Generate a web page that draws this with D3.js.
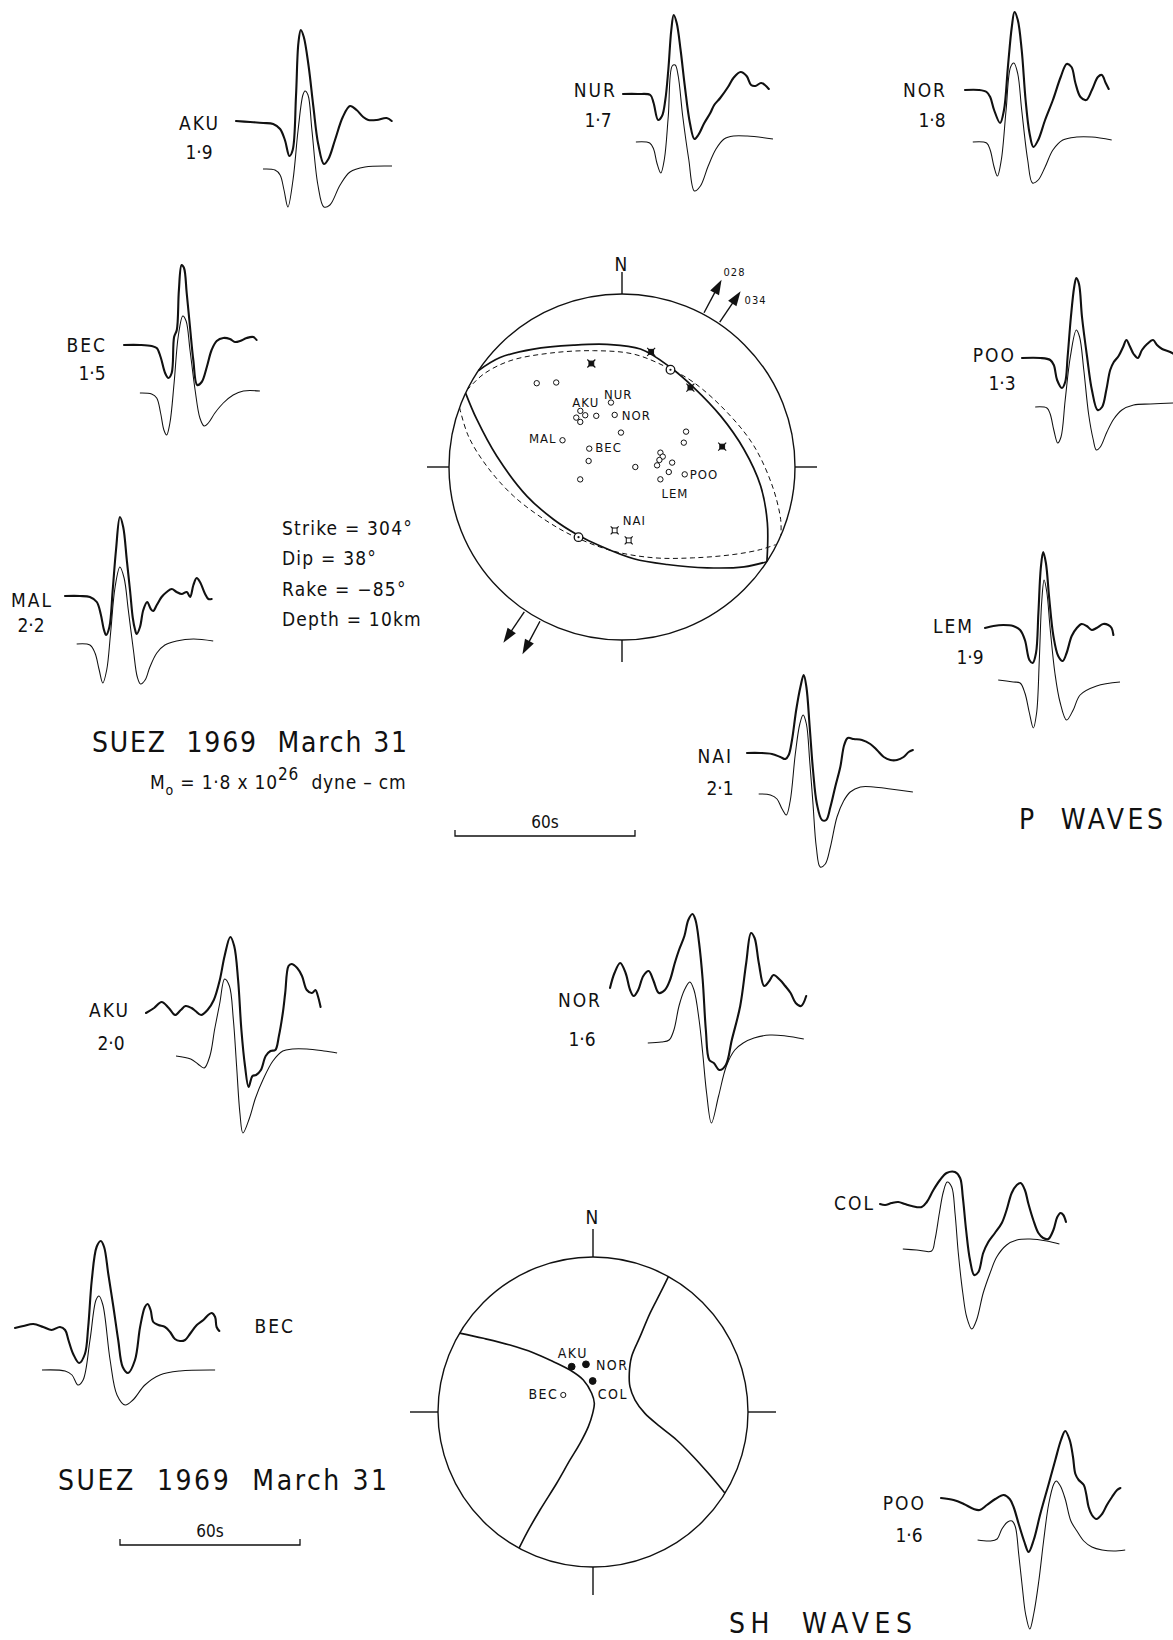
<!DOCTYPE html>
<html>
<head>
<meta charset="utf-8">
<script src="https://cdn.jsdelivr.net/npm/d3@7"></script>
<style>
    body { margin: 0; background: #fff; }
    svg text { font-family: "DejaVu Sans Condensed", "Liberation Sans Narrow", "DejaVu Sans", sans-serif; fill: #111; }
</style>
</head>
<body>
<svg id="fig" width="1173" height="1640"></svg>
<script>
(function () {

    // Time base: seconds on the page, and the 60 s scale bar.
    var pxPerSecond = 3.0;
    var barSeconds = 60;

    // ---- P wave seismograms, [time (s), amplitude (relative)] ----
    var pAkuObs = [[0,0],[4.7,-1],[9.1,-2],[12.4,-3],[14.7,-8],[16.3,-19],[17.8,-35],[18.9,-29],[20,25],[20.8,78],[21.6,91],[22.6,84],[24.2,55],[25.8,14],[27.4,-23],[29.3,-43],[30.8,-38],[33,-19],[35.6,4],[38,15],[40.2,11],[42.4,4],[44.1,1],[46.9,1],[50.2,3],[51.9,0]];
    var pAkuSyn = [[9,0],[13,-1],[14.7,-6],[16,-21],[17.3,-38],[19,-11],[20.7,39],[22.3,74],[23,78],[24,74],[25.3,39],[27.3,-16],[29.3,-38],[31.3,-36],[34.7,-16],[38,-3],[43,2],[52,3]];
    var pNurObs = [[0,0],[4.9,0],[9.1,-1],[10.2,-9],[11.7,-26],[13,-22],[14.1,-6],[15.1,24],[16.1,64],[16.9,79],[17.9,71],[19.2,44],[20.6,8],[22.3,-29],[23.8,-45],[25.1,-41],[27.1,-29],[29.1,-19],[30.4,-11],[32.4,-4],[35,7],[36.8,16],[39.2,22],[41.2,18],[42.7,9],[44.1,8],[46,11],[47.3,9],[48.6,5]];
    var pNurSyn = [[4.3,0],[8.9,-1],[10.2,-7],[11.3,-21],[12.6,-31],[13.8,-17],[15.1,26],[16.4,76],[17.4,77],[18.4,66],[19.9,26],[21.9,-17],[23.8,-49],[25.8,-44],[28.4,-24],[31,-7],[33.7,3],[36.8,6],[41.4,6],[50,3]];
    var pNorObs = [[0,0],[4.6,0],[7.2,-2],[8.4,-7],[9.7,-20],[11.7,-33],[13,-20],[14.3,23],[15.6,63],[16.5,78],[17.6,70],[18.9,40],[20.2,-10],[21.5,-43],[22.8,-57],[24.4,-50],[26.7,-30],[29.3,-10],[31.9,13],[33.9,26],[35.5,23],[36.8,7],[38.5,-7],[40.4,-10],[42.3,0],[44.3,13],[45.6,15],[46.9,7],[47.9,1]];
    var pNorSyn = [[2.6,0],[7.2,-1],[8.4,-8],[9.7,-25],[10.8,-34],[12.1,-18],[13.7,32],[15.2,75],[16.3,79],[17.6,68],[18.9,32],[20.9,-18],[22.5,-41],[24.4,-38],[26.7,-25],[29.3,-8],[32.6,2],[37.2,5],[42.3,5],[48.9,2]];
    var pBecObs = [[0,0],[5.3,0],[9.2,-1],[10.9,-3],[12.2,-12],[13.7,-28],[14.8,-33],[15.9,-28],[16.7,8],[17.6,15],[18.3,55],[19.2,80],[20,77],[20.9,52],[22,18],[23.1,-15],[24.4,-40],[25.9,-37],[27.6,-22],[29.2,-5],[30.9,4],[33.1,7],[35.3,6],[37,3],[38.7,4],[40.9,7],[43.1,8],[44.2,5]];
    var pBecSyn = [[5.3,0],[9.2,-1],[10.9,-5],[12.2,-20],[13.3,-37],[14.2,-42],[15.3,-30],[16.7,10],[18.1,57],[19.6,77],[20.7,72],[22,43],[23.7,3],[25.3,-25],[26.7,-33],[28.1,-30],[30.3,-20],[33.1,-10],[36.4,-2],[39.8,2],[45.3,2]];
    var pMalObs = [[0,0],[5,0],[8.3,-1],[10.6,-6],[11.9,-18],[13,-34],[13.7,-39],[14.8,-31],[15.9,6],[17,46],[18.3,79],[19.4,69],[20.6,36],[21.7,5],[22.6,-22],[23.3,-33],[23.9,-38],[25,-31],[26.1,-14],[27.4,-6],[28.6,-13],[29.4,-15],[30.6,-9],[32.2,-1],[33.9,4],[35.6,7],[37.2,4],[38.9,2],[40.6,4],[41.7,-1],[42.8,11],[43.9,18],[45,14],[46.7,2],[47.8,-3],[48.9,-3]];
    var pMalSyn = [[3.9,0],[8.3,-1],[10,-9],[11.4,-26],[12.6,-39],[13.9,-26],[15.2,11],[16.7,57],[18.3,77],[19.7,66],[21.1,34],[22.8,-6],[24.1,-33],[25.2,-40],[26.7,-36],[28.3,-23],[30.6,-9],[33.3,-1],[37.2,3],[42.8,5],[49.4,3]];
    var pPooObs = [[0,0],[6.1,0],[9.4,-2],[10.6,-7],[11.7,-22],[13.3,-30],[14.4,-24],[15.2,1],[16.3,41],[17.4,71],[18.1,80],[19,74],[20,41],[21.7,1],[23.3,-32],[25.2,-52],[26.7,-49],[28.1,-32],[29.4,-12],[30.6,-4],[32.2,2],[33.7,11],[34.8,18],[35.9,12],[37.2,4],[38.6,0],[40,8],[41.7,14],[43.7,18],[45,13],[46.7,9],[49.4,6],[50.6,4]];
    var pPooSyn = [[4.4,0],[8.3,-1],[9.4,-7],[10.6,-23],[11.9,-36],[13,-30],[14.4,7],[16.1,50],[18.1,77],[19.2,70],[20.6,37],[22.2,-7],[23.7,-32],[24.8,-43],[26.1,-40],[28.3,-25],[30.6,-12],[33.3,-3],[37.2,2],[42.8,3],[50.6,4]];
    var pLemObs = [[0,0],[2.8,2],[6.1,3],[9.4,2],[11.7,-2],[13.3,-12],[14.8,-32],[15.9,-35],[17,-25],[17.8,15],[18.6,60],[19.4,76],[20.3,65],[21.4,30],[22.8,-8],[24.4,-28],[25.9,-33],[27.2,-25],[28.9,-8],[30.6,0],[32.2,4],[33.9,2],[35.6,-2],[37.2,0],[39.4,4],[41.1,3],[42.2,0],[42.8,-7]];
    var pLemSyn = [[4.4,0],[9.4,-2],[11.7,-3],[13.3,-13],[14.8,-33],[16.1,-48],[17.2,-33],[18.1,20],[18.9,78],[19.7,100],[20.6,88],[21.7,52],[23.3,7],[25,-22],[27.2,-40],[29.4,-30],[31.7,-15],[37.2,-6],[45,-2]];
    var pNaiObs = [[0,0],[4.4,0],[8.3,-1],[11.1,-4],[12.8,-6],[13.9,-2],[15,13],[16.4,43],[17.8,66],[18.9,78],[19.8,66],[20.9,26],[22,-17],[23.3,-51],[25,-67],[26.4,-67],[27.8,-54],[29.4,-34],[31.1,-14],[32.4,8],[33.6,15],[35.6,14],[38.3,13],[41.1,9],[43.3,3],[45.6,-4],[47.8,-7],[50,-7],[52.2,-4],[53.9,1],[55.3,3]];
    var pNaiSyn = [[3.9,0],[7.8,-1],[10,-5],[11.7,-15],[13.1,-21],[14.4,-7],[16.1,40],[17.6,70],[18.7,79],[19.8,70],[20.9,33],[22,-10],[23.1,-53],[24.4,-73],[26.1,-70],[27.8,-53],[30,-23],[32.2,-7],[34.4,2],[37.8,7],[42.2,7],[47.8,5],[55.3,2]];

    // ---- SH wave seismograms ----
    var shAkuObs = [[0,0],[2.7,5],[5.2,11],[7.6,5],[9.7,-2],[11.6,3],[13.2,7],[15.2,5],[16.5,2],[18.4,-2],[20.5,3],[22.6,13],[24.6,33],[26.2,57],[28.1,76],[29.4,67],[30.7,33],[31.8,-17],[33,-53],[34.2,-74],[35.5,-63],[36.7,-62],[38.3,-57],[39.9,-43],[41.5,-38],[43.1,-37],[44.3,-23],[45.6,0],[46.4,20],[47.5,47],[48.5,49],[50.4,45],[52,37],[53.6,23],[55.3,20],[56.5,23],[57.2,18],[58.2,6]];
    var shAkuSyn = [[10,0],[14.9,-3],[17.3,-8],[19.4,-12],[21.3,0],[22.9,27],[24.6,53],[26.2,77],[27.8,70],[29.1,37],[30.2,-10],[31.3,-57],[32.3,-77],[34.5,-62],[36.5,-42],[39.1,-23],[42.3,-5],[45.6,5],[48.8,7],[53.6,7],[59.3,5],[63.7,3]];
    var shNorObs = [[0,0],[1.5,15],[3.4,25],[5.2,15],[6.7,-2],[7.9,-8],[9.4,-2],[11.1,12],[12.9,17],[14.4,8],[16.3,-5],[18.3,-2],[20,8],[21.6,25],[23,38],[24.8,52],[26.1,68],[27.5,74],[28.5,68],[29.7,45],[30.9,8],[31.95,-42],[33.1,-72],[34.6,-75],[36.5,-82],[38.6,-77],[40.6,-52],[43.4,-18],[45.4,25],[47,55],[48.2,50],[49.6,25],[51.4,2],[53.1,7],[54.5,13],[56.7,8],[58.4,2],[60.2,-5],[61.9,-15],[63.7,-18],[65.4,-8]];
    var shNorSyn = [[12.6,0],[17.1,1],[19.7,3],[21.3,13],[23,37],[24.8,53],[26.6,61],[28,53],[29.7,23],[30.9,-10],[32.2,-50],[33.8,-80],[36.2,-53],[38.8,-23],[41.6,-7],[44.4,0],[48,5],[53.3,8],[58.6,7],[64.6,4]];
    var shBecObs = [[0,0],[2.8,2],[6.1,4],[9.4,1],[12.2,-2],[15,1],[16.7,-2],[17.8,-12],[19.4,-26],[21.4,-35],[23.3,-26],[24.4,1],[25.6,48],[27.2,81],[28.6,87],[29.7,81],[31.1,54],[32.8,21],[34.4,-12],[35.9,-39],[37.7,-45],[40,-32],[41.7,1],[43.3,21],[44.2,24],[45.2,18],[46.1,6],[47.8,3],[50,1],[51.7,-4],[53.3,-11],[55,-13],[56.7,-12],[58.3,-6],[60.6,3],[62.8,8],[64.4,13],[65.6,15],[66.7,11],[67.2,1],[68.1,-3]];
    var shBecSyn = [[9,0],[16.7,-1],[19,-5],[21,-15],[22.7,-10],[25,30],[27,70],[28,74],[29.3,65],[31.7,10],[34,-25],[36.7,-35],[39.3,-30],[43.3,-15],[48.3,-5],[55,-1],[66.7,0]];
    var shColObs = [[0,0],[1.7,-1],[3.9,1],[6.1,2],[8.3,0],[10.6,-2],[13.9,-3],[15.6,2],[17.8,14],[20,24],[22.2,31],[25,32],[26.7,26],[27.6,7],[28.7,-26],[30,-56],[31.4,-71],[32.8,-68],[34.4,-49],[36.1,-38],[38.3,-29],[40.6,-19],[42.2,-6],[43.9,11],[45.6,19],[46.9,21],[48.3,14],[49.4,1],[51.1,-16],[52.8,-29],[54.4,-34],[56.1,-35],[57.8,-26],[59.1,-13],[60.2,-9],[61.1,-11],[62,-18]];
    var shColSyn = [[7.6,0],[12.2,-1],[17.2,-2],[18.3,9],[19.8,36],[21.1,57],[22.4,67],[23.9,62],[25,36],[26.1,-4],[27.6,-44],[28.9,-68],[30.6,-80],[32.2,-71],[34.4,-44],[36.7,-24],[38.9,-8],[42.2,4],[45.6,9],[50,10],[55.6,8],[59.8,5]];
    var shPooObs = [[0,0],[4.2,-2],[7.6,-6],[10.9,-11],[12.9,-12],[15.3,-7],[18.1,-1],[20.9,3],[22.9,-1],[24.2,-9],[25.9,-26],[27.8,-44],[29.2,-54],[30.9,-42],[33.1,-16],[35.9,14],[38.1,38],[40,58],[41.4,67],[42.9,58],[44,41],[44.8,24],[45.9,18],[47.6,13],[48.4,4],[49.2,-9],[50.3,-17],[51.8,-21],[53.7,-16],[55.3,-7],[57,1],[58.7,8],[59.8,10]];
    var shPooSyn = [[12.2,0],[16.4,-1],[18.7,1],[20.3,11],[22.2,18],[23.7,19],[24.8,13],[25.9,-14],[27.1,-47],[28.2,-74],[29.6,-89],[30.9,-74],[32.6,-41],[34.2,-1],[35.9,36],[37.6,56],[38.4,59],[39.8,54],[41.4,41],[43.3,19],[45.3,9],[47.6,-1],[50.3,-7],[53.7,-10],[57.6,-11],[61.4,-10]];

    // ---- P focal sphere, [azimuth (deg), radius (fraction of R)] ----
    var pPlane1 = [[303.8,1.0],[311.9,0.947],[323.1,0.852],[338.3,0.758],[353,0.714],[8.9,0.69],[26,0.64],[42.1,0.619],[62.6,0.642],[81.7,0.712],[97.8,0.809],[111,0.9],[123.1,1.0]];
    var pPlane2 = [[295.3,1.0],[288.2,0.884],[275,0.727],[253,0.575],[232.5,0.498],[213.8,0.469],[195.3,0.474],[172.7,0.535],[155.2,0.621],[139.8,0.763],[129.3,0.911],[123.2,1.0]];
    var pPlane1Alt = [[296.4,1.0],[303.8,0.964],[313.5,0.892],[327.8,0.778],[346.3,0.692],[5.9,0.656],[24.4,0.632],[40.4,0.641],[62.6,0.685],[80.9,0.772],[97.2,0.876],[108.3,0.966],[113.3,1.0]];
    var pPlane2Alt = [[290.1,1.0],[281.4,0.906],[270.4,0.782],[255,0.649],[234.2,0.535],[212.5,0.485],[185.7,0.489],[160.7,0.556],[141.7,0.669],[128,0.821],[120.8,0.932],[116.8,0.995]];
    var pOpen = [[314.5,0.691],[322.1,0.619],[350.3,0.378],[323.4,0.404],[317.2,0.389],[324.6,0.367],[317.2,0.355],[333.3,0.331],[352,0.304],[358.3,0.199],[294.2,0.377],[299.3,0.217],[280.2,0.196],[253.5,0.252],[90,0.077],[69.5,0.237],[75.7,0.243],[79.4,0.22],[87.3,0.203],[85,0.291],[96.1,0.272],[107.8,0.233],[61.1,0.423],[68.5,0.384],[96.7,0.365]];
    var pCrossFilled = [[343.5,0.624],[14.2,0.687],[40.7,0.606],[78.5,0.591]];
    var pCrossOpen = [[186.6,0.369],[174.8,0.426]];
    var pAxes = [[26.5,0.628],[211.8,0.477]];
    var pStations = [["NUR",350.3,0.378],["AKU",323.4,0.404],["NOR",352,0.304],["MAL",294.2,0.377],["BEC",299.3,0.217],["POO",96.7,0.365],["LEM",107.8,0.233],["NAI",186.6,0.369]];
    var slipAzimuths = [28, 34];
    var slipLabels = ["028", "034"];

    // ---- SH focal sphere ----
    var shPlane1 = [[300.6,1.0],[303.9,0.852],[308.9,0.688],[314.8,0.543],[321.8,0.413],[331.3,0.309],[343.2,0.216],[355.9,0.121],[8.7,0.057],[194,0.009],[197.7,0.099],[202.5,0.219],[205.6,0.343],[207,0.516],[208.4,0.719],[208.7,0.892],[208.5,1.0]];
    var shPlane2 = [[29.1,1.0],[29.5,0.879],[30,0.735],[32,0.573],[34.9,0.435],[43.2,0.342],[55.6,0.289],[74.1,0.282],[91.5,0.335],[102.3,0.443],[108.5,0.569],[114,0.709],[118,0.843],[121.6,1.0]];
    var shFilled = [["AKU",334.8,0.323],["NOR",351.6,0.311],["COL",359.4,0.2]];
    var shOpen = [["BEC",299.8,0.221]];

    // ---- Layout (page positions) ----
    var pPanels = [
        { sta: "AKU", amp: "1·9", obs: pAkuObs, syn: pAkuSyn, x: 236, y: 121, dy: 48, lx: 220, ly: 130, ax: 199, ay: 159 },
        { sta: "NUR", amp: "1·7", obs: pNurObs, syn: pNurSyn, x: 623, y: 94, dy: 48, lx: 617, ly: 97, ax: 598, ay: 127 },
        { sta: "NOR", amp: "1·8", obs: pNorObs, syn: pNorSyn, x: 965, y: 90, dy: 52, lx: 947, ly: 97, ax: 932, ay: 127 },
        { sta: "BEC", amp: "1·5", obs: pBecObs, syn: pBecSyn, x: 124, y: 345, dy: 48, lx: 107, ly: 352, ax: 92, ay: 380 },
        { sta: "MAL", amp: "2·2", obs: pMalObs, syn: pMalSyn, x: 65, y: 596, dy: 48, lx: 53, ly: 607, ax: 31, ay: 632 },
        { sta: "POO", amp: "1·3", obs: pPooObs, syn: pPooSyn, x: 1022, y: 358, dy: 49, lx: 1016, ly: 362, ax: 1002, ay: 390 },
        { sta: "LEM", amp: "1·9", obs: pLemObs, syn: pLemSyn, x: 985, y: 628, dy: 52, lx: 974, ly: 633, ax: 970, ay: 664 },
        { sta: "NAI", amp: "2·1", obs: pNaiObs, syn: pNaiSyn, x: 747, y: 753, dy: 41, lx: 733, ly: 763, ax: 720, ay: 795 }
    ];
    var shPanels = [
        { sta: "AKU", amp: "2·0", obs: shAkuObs, syn: shAkuSyn, x: 146, y: 1013, dy: 43, lx: 130, ly: 1017, ax: 111, ay: 1050 },
        { sta: "NOR", amp: "1·6", obs: shNorObs, syn: shNorSyn, x: 610, y: 988, dy: 55, lx: 602, ly: 1007, ax: 582, ay: 1046 },
        { sta: "BEC", amp: null, obs: shBecObs, syn: shBecSyn, x: 15, y: 1328, dy: 42, lx: 295, ly: 1333 },
        { sta: "COL", amp: null, obs: shColObs, syn: shColSyn, x: 880, y: 1204, dy: 45, lx: 875, ly: 1210 },
        { sta: "POO", amp: "1·6", obs: shPooObs, syn: shPooSyn, x: 941, y: 1498, dy: 42, lx: 926, ly: 1510, ax: 909, ay: 1542 }
    ];
    var pLabelOffset = { NUR: [-7, -4, "start"], AKU: [-8, -4, "start"], NOR: [7, 5, "start"], MAL: [-6, 3, "end"],
        BEC: [6, 3, "start"], POO: [5, 5, "start"], LEM: [1, 19, "start"], NAI: [8, -5, "start"] };
    var shLabelOffset = { AKU: [-14, -9, "start"], NOR: [10, 6, "start"], COL: [5, 18, "start"], BEC: [-5, 4, "end"] };

    var svg = d3.select("#fig");
    var ink = "#111";

    // Scales for the seismograms.
    var tScale = d3.scaleLinear().domain([0, 1]).range([0, pxPerSecond]);
    var aScale = d3.scaleLinear().domain([0, 1]).range([0, -1]);
    var traceLine = d3.line()
        .x(d => tScale(d[0]))
        .y(d => aScale(d[1]))
        .curve(d3.curveCatmullRom.alpha(0.5));

    function drawPanels(panels) {
        panels.forEach(function (p) {
            var g = svg.append("g").attr("transform", "translate(" + p.x + "," + p.y + ")");
            g.append("path").datum(p.obs).attr("d", traceLine)
                .attr("fill", "none").attr("stroke", ink).attr("stroke-width", 2.1)
                .attr("stroke-linejoin", "round").attr("stroke-linecap", "round");
            g.append("path").datum(p.syn).attr("d", traceLine)
                .attr("transform", "translate(0," + p.dy + ")")
                .attr("fill", "none").attr("stroke", ink).attr("stroke-width", 1.05);
            svg.append("text").attr("x", p.lx).attr("y", p.ly).attr("text-anchor", "end")
                .attr("font-size", 19).attr("letter-spacing", 2).text(p.sta);
            if (p.amp) {
                svg.append("text").attr("x", p.ax).attr("y", p.ay).attr("text-anchor", "middle")
                    .attr("font-size", 19).text(p.amp);
            }
        });
    }
    drawPanels(pPanels);
    drawPanels(shPanels);

    // Focal sphere helper.
    function sphere(cx, cy, R, tick, nGap) {
        var g = svg.append("g").attr("transform", "translate(" + cx + "," + cy + ")");
        var rScale = d3.scaleLinear().domain([0, 1]).range([0, R]);
        var radial = d3.lineRadial()
            .angle(d => d[0] * Math.PI / 180)
            .radius(d => rScale(d[1]))
            .curve(d3.curveCatmullRom.alpha(0.5));
        var pos = function (az, r) {
            var a = az * Math.PI / 180;
            return [rScale(r) * Math.sin(a), -rScale(r) * Math.cos(a)];
        };
        g.append("circle").attr("r", rScale(1)).attr("fill", "none").attr("stroke", ink).attr("stroke-width", 1.4);
        [0, 90, 180, 270].forEach(function (az) {
            var p0 = pos(az, 1), p1 = pos(az, 1 + tick / R);
            g.append("line").attr("x1", p0[0]).attr("y1", p0[1]).attr("x2", p1[0]).attr("y2", p1[1])
                .attr("stroke", ink).attr("stroke-width", 1.4);
        });
        g.append("text").attr("x", pos(0, 1)[0] - 1).attr("y", pos(0, 1)[1] - tick - nGap)
            .attr("text-anchor", "middle").attr("font-size", 19).text("N");
        return { g: g, radial: radial, pos: pos, rScale: rScale };
    }

    // ---- P sphere ----
    var P = sphere(622, 467, 173, 22, 1);
    [pPlane1, pPlane2].forEach(function (c) {
        P.g.append("path").datum(c).attr("d", P.radial).attr("fill", "none")
            .attr("stroke", ink).attr("stroke-width", 1.7);
    });
    [pPlane1Alt, pPlane2Alt].forEach(function (c) {
        P.g.append("path").datum(c).attr("d", P.radial).attr("fill", "none")
            .attr("stroke", ink).attr("stroke-width", 1).attr("stroke-dasharray", "5,3.5");
    });
    P.g.selectAll(".open").data(pOpen).enter().append("circle")
        .attr("cx", d => P.pos(d[0], d[1])[0]).attr("cy", d => P.pos(d[0], d[1])[1])
        .attr("r", 2.7).attr("fill", "#fff").attr("stroke", ink).attr("stroke-width", 1);
    function crossBox(sel, filled) {
        sel.each(function (d) {
            var c = P.pos(d[0], d[1]);
            var s = d3.select(this).attr("transform", "translate(" + c[0] + "," + c[1] + ")");
            s.append("path").attr("d", "M-4,-4L4,4M4,-4L-4,4").attr("stroke", ink).attr("stroke-width", 1.1);
            s.append("rect").attr("x", -2.4).attr("y", -2.4).attr("width", 4.8).attr("height", 4.8)
                .attr("fill", filled ? ink : "#fff").attr("stroke", ink).attr("stroke-width", 1);
        });
    }
    P.g.selectAll(".cf").data(pCrossFilled).enter().append("g").call(crossBox, true);
    P.g.selectAll(".co").data(pCrossOpen).enter().append("g").call(crossBox, false);
    pAxes.forEach(function (d) {
        var c = P.pos(d[0], d[1]);
        P.g.append("circle").attr("cx", c[0]).attr("cy", c[1]).attr("r", 4.3)
            .attr("fill", "#fff").attr("stroke", ink).attr("stroke-width", 1.3);
        P.g.append("circle").attr("cx", c[0]).attr("cy", c[1]).attr("r", 1.1).attr("fill", ink);
    });
    pStations.forEach(function (d) {
        var c = P.pos(d[1], d[2]), o = pLabelOffset[d[0]];
        P.g.append("text").attr("x", c[0] + o[0]).attr("y", c[1] + o[1]).attr("text-anchor", o[2])
            .attr("font-size", 13).attr("letter-spacing", 1).text(d[0]);
    });

    // Slip vector arrows (and their opposites).
    slipAzimuths.forEach(function (az, i) {
        [az, az + 180].forEach(function (a, k) {
            var s = P.pos(a, 1.01), e = P.pos(a, 1.15), tip = P.pos(a, 1.226);
            var rad = a * Math.PI / 180, nx = Math.cos(rad), ny = Math.sin(rad);
            var base = P.pos(a, 1.14);
            P.g.append("line").attr("x1", s[0]).attr("y1", s[1]).attr("x2", e[0]).attr("y2", e[1])
                .attr("stroke", ink).attr("stroke-width", 1.4);
            P.g.append("path")
                .attr("d", "M" + tip[0] + "," + tip[1] +
                    "L" + (base[0] + 5 * nx) + "," + (base[1] + 5 * ny) +
                    "L" + (base[0] - 5 * nx) + "," + (base[1] - 5 * ny) + "Z")
                .attr("fill", ink);
            if (k === 0) {
                var off = i === 0 ? [2, -4] : [4, 13];
                P.g.append("text").attr("x", tip[0] + off[0]).attr("y", tip[1] + off[1])
                    .attr("font-size", 11).attr("letter-spacing", 1).text(slipLabels[i]);
            }
        });
    });

    // ---- SH sphere ----
    var S = sphere(593, 1412, 155, 28, 5);
    [shPlane1, shPlane2].forEach(function (c) {
        S.g.append("path").datum(c).attr("d", S.radial).attr("fill", "none")
            .attr("stroke", ink).attr("stroke-width", 1.6);
    });
    shFilled.concat(shOpen).forEach(function (d, i) {
        var c = S.pos(d[1], d[2]), o = shLabelOffset[d[0]], filled = i < shFilled.length;
        S.g.append("circle").attr("cx", c[0]).attr("cy", c[1]).attr("r", filled ? 3.4 : 2.6)
            .attr("fill", filled ? ink : "#fff").attr("stroke", ink).attr("stroke-width", 1);
        S.g.append("text").attr("x", c[0] + o[0]).attr("y", c[1] + o[1]).attr("text-anchor", o[2])
            .attr("font-size", 14).attr("letter-spacing", 1.5).text(d[0]);
    });

    // ---- Scale bars ----
    function scaleBar(x, y) {
        var w = tScale(barSeconds);
        svg.append("path").attr("d", "M" + x + "," + (y - 6) + "V" + y + "H" + (x + w) + "V" + (y - 6))
            .attr("fill", "none").attr("stroke", ink).attr("stroke-width", 1.3);
        svg.append("text").attr("x", x + w / 2).attr("y", y - 8).attr("text-anchor", "middle")
            .attr("font-size", 17).text(barSeconds + "s");
    }
    scaleBar(455, 836);
    scaleBar(120, 1545);

    // ---- Titles and source parameters ----
    var params = ["Strike = 304°", "Dip = 38°", "Rake = −85°", "Depth = 10km"];
    params.forEach(function (t, i) {
        svg.append("text").attr("x", 282).attr("y", 535 + i * 30.3)
            .attr("font-size", 19).attr("letter-spacing", 1.2).text(t);
    });
    function title(t, x, y, w) {
        svg.append("text").attr("x", x).attr("y", y).attr("font-size", 28)
            .attr("textLength", w).attr("lengthAdjust", "spacing").attr("xml:space", "preserve").text(t);
    }
    title("SUEZ  1969  March 31", 92, 752, 315);
    title("P  WAVES", 1019, 829, 144);
    title("SUEZ  1969  March 31", 58, 1490, 329);
    title("SH  WAVES", 729, 1633, 183);

    var mo = svg.append("text").attr("x", 150).attr("y", 789).attr("font-size", 19)
        .attr("letter-spacing", 0.8).attr("xml:space", "preserve");
    mo.append("tspan").text("M");
    mo.append("tspan").attr("dy", 6).attr("font-size", 14).text("o");
    mo.append("tspan").attr("dy", -6).text(" = 1·8 x 10");
    mo.append("tspan").attr("dy", -9).attr("font-size", 17).text("26");
    mo.append("tspan").attr("dy", 9).text("  dyne – cm");

})();
</script>
</body>
</html>
